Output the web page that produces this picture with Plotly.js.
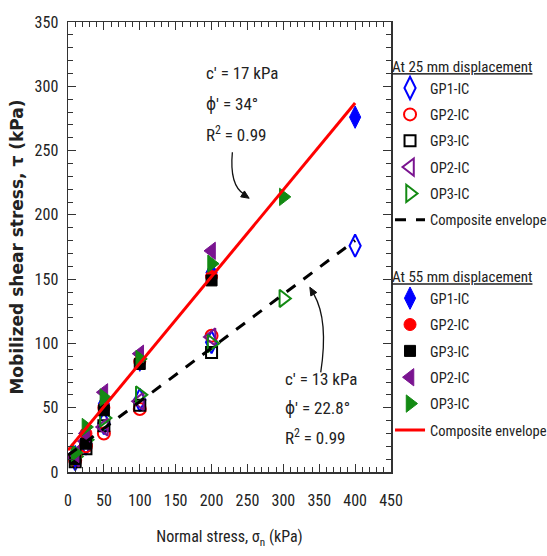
<!DOCTYPE html>
<html><head><meta charset="utf-8">
<script src="https://cdn.plot.ly/plotly-3.0.1.min.js"></script>
<style>html,body{margin:0;padding:0;background:#fff}</style>
</head><body>
<div id="chart" style="width:547px;height:556px"></div>
<script>
const NARROW = '"Roboto Condensed", "DejaVu Sans Condensed", sans-serif';
const INK = '#222222';

// Normal stress (kPa) for each series
const snGP1 = [10, 25, 50, 100, 200, 400];
const snGP2 = [10, 25, 50, 100, 200];
const snGP3 = [10, 25, 50, 100, 200];
const snOP2 = [10, 25, 50, 100, 200];
const snOP3 = [10, 25, 50, 100, 200, 300];

// Mobilized shear stress (kPa) at 25 mm displacement
const gp1_25 = [10, 22, 38, 56, 101, 176];
const gp2_25 = [9, 20, 30, 49, 106];
const gp3_25 = [8, 18, 36, 52, 93];
const op2_25 = [11, 24, 35, 55, 105];
const op3_25 = [12, 25, 42, 60, 100, 135];

// Mobilized shear stress (kPa) at 55 mm displacement
const gp1_55 = [12, 28, 53, 87, 155, 276];
const gp2_55 = [13, 30, 50, 86, 152];
const gp3_55 = [10, 22, 48, 84, 149];
const op2_55 = [14, 30, 62, 92, 172];
const op3_55 = [15, 35, 58, 88, 162, 214];

// Composite envelopes (end points)
const envX = [0, 400];
const env25 = [13, 180];
const env55 = [17, 287];

const seriesNames = ['GP1-IC', 'GP2-IC', 'GP3-IC', 'OP2-IC', 'OP3-IC'];
const envName = 'Composite envelope';
const legendTitles = ['At 25 mm displacement', 'At 55 mm displacement'];

const colors = ['#0000ff', '#ff0000', '#000000', '#7a1490', '#138a13'];
const symOpen = ['diamond-tall-open', 'circle-open', 'square-open', 'triangle-left-open', 'triangle-right-open'];
const symFill = ['diamond-tall', 'circle', 'square', 'triangle-left', 'triangle-right'];
const sizes = [16, 12, 11, 15, 15];

const xs = [snGP1, snGP2, snGP3, snOP2, snOP3];
const y25 = [gp1_25, gp2_25, gp3_25, op2_25, op3_25];
const y55 = [gp1_55, gp2_55, gp3_55, op2_55, op3_55];

const traces = [];
for (let i = 0; i < 5; i++) {
  traces.push({
    x: xs[i], y: y25[i], type: 'scatter', mode: 'markers', name: seriesNames[i],
    legend: 'legend', legendgroup: 'a' + i,
    marker: {symbol: symOpen[i], size: sizes[i], color: colors[i], line: {color: colors[i], width: 2}}
  });
}
for (let i = 0; i < 5; i++) {
  traces.push({
    x: xs[i], y: y55[i], type: 'scatter', mode: 'markers', name: seriesNames[i],
    legend: 'legend2', legendgroup: 'b' + i,
    marker: {symbol: symFill[i], size: sizes[i], color: colors[i], line: {color: colors[i], width: 1}}
  });
}
traces.push({x: envX, y: env25, type: 'scatter', mode: 'lines', name: envName, legend: 'legend', legendgroup: 'a5',
  line: {color: '#000000', width: 3, dash: '11px,10px'}});
traces.push({x: envX, y: env55, type: 'scatter', mode: 'lines', name: envName, legend: 'legend2', legendgroup: 'b5',
  line: {color: '#ff0000', width: 3}});

const axisCommon = {
  ticks: 'inside', ticklen: 8, tickwidth: 1.2, tickcolor: '#333',
  showline: true, linecolor: '#333', linewidth: 1.5, mirror: 'ticks',
  showgrid: false, zeroline: false,
  tickfont: {family: NARROW, size: 16, color: INK}
};

const annFont = {family: NARROW, size: 17, color: INK};
const annotations = [
  {x: 190, y: 310, text: 'c′ = 17 kPa'},
  {x: 190, y: 286, text: 'ϕ′ = 34°'},
  {x: 190, y: 263, text: 'R<sup>2</sup> = 0.99'},
  {x: 299, y: 72, text: 'c′ = 13 kPa'},
  {x: 299, y: 49.5, text: 'ϕ′ = 22.8°'},
  {x: 299, y: 27, text: 'R<sup>2</sup> = 0.99'}
].map(a => Object.assign({xref: 'x', yref: 'y', xanchor: 'left', yanchor: 'middle', showarrow: false, font: annFont}, a));

const legendCommon = {
  xref: 'paper', yref: 'paper', xanchor: 'left', yanchor: 'top', x: 0.997,
  bgcolor: 'rgba(0,0,0,0)', borderwidth: 0,
  font: {family: NARROW, size: 14.5, color: INK},
  traceorder: 'grouped', tracegroupgap: 4.5
};

const layout = {
  width: 547, height: 556,
  margin: {l: 68, r: 156, t: 22, b: 84, autoexpand: false},
  paper_bgcolor: '#fff', plot_bgcolor: '#fff',
  showlegend: true,
  xaxis: Object.assign({}, axisCommon, {
    range: [0, 450], tick0: 0, dtick: 50,
    minor: {dtick: 10, ticks: 'inside', ticklen: 5, tickcolor: '#333', tickwidth: 1},
    ticklabelstandoff: 13,
    title: {text: 'Normal stress, σ<sub>n</sub> (kPa)', font: {family: NARROW, size: 16, color: INK}, standoff: 22}
  }),
  yaxis: Object.assign({}, axisCommon, {
    range: [0, 350], tick0: 0, dtick: 50,
    minor: {dtick: 10, ticks: 'inside', ticklen: 5, tickcolor: '#333', tickwidth: 1},
    ticklabelstandoff: 5,
    title: {text: 'Mobilized shear stress, τ (kPa)', font: {family: '"DejaVu Sans", sans-serif', size: 17, color: INK, weight: 'bold'}, standoff: 6}
  }),
  yaxis2: {
    overlaying: 'y', side: 'left', anchor: 'x', range: [0, 350], tick0: 0, dtick: 50,
    ticks: 'outside', ticklen: 4, tickwidth: 1.2, tickcolor: '#333',
    minor: {dtick: 10, ticks: 'outside', ticklen: 3, tickcolor: '#333'},
    showticklabels: false, showline: false, showgrid: false, zeroline: false
  },
  legend: Object.assign({}, legendCommon, {y: 0.932,
    title: {text: legendTitles[0], font: {family: NARROW, size: 15, color: INK, lineposition: 'under'}}}),
  legend2: Object.assign({}, legendCommon, {y: 0.465,
    title: {text: legendTitles[1], font: {family: NARROW, size: 15, color: INK, lineposition: 'under'}}}),
  shapes: [
    // curved leader lines and their arrow heads
    {type: 'path', xref: 'x', yref: 'y', path: 'M229,248.7 Q224.7,223 245.5,216', line: {color: '#111', width: 1.3}},
    {type: 'path', xref: 'x', yref: 'y', path: 'M252.4,212.9 L240.5,214.0 L245.8,218.6 Z', fillcolor: '#111', line: {color: '#111', width: 1}},
    {type: 'path', xref: 'x', yref: 'y', path: 'M352.1,77.5 Q363.2,118 342.5,138.3', line: {color: '#111', width: 1.3}},
    {type: 'path', xref: 'x', yref: 'y', path: 'M336.9,143.7 L346.6,139.6 L338.3,136.9 Z', fillcolor: '#111', line: {color: '#111', width: 1}}
  ],
  annotations: annotations
};

Plotly.newPlot('chart', traces, layout, {displayModeBar: false, staticPlot: true});
</script>
</body></html>
